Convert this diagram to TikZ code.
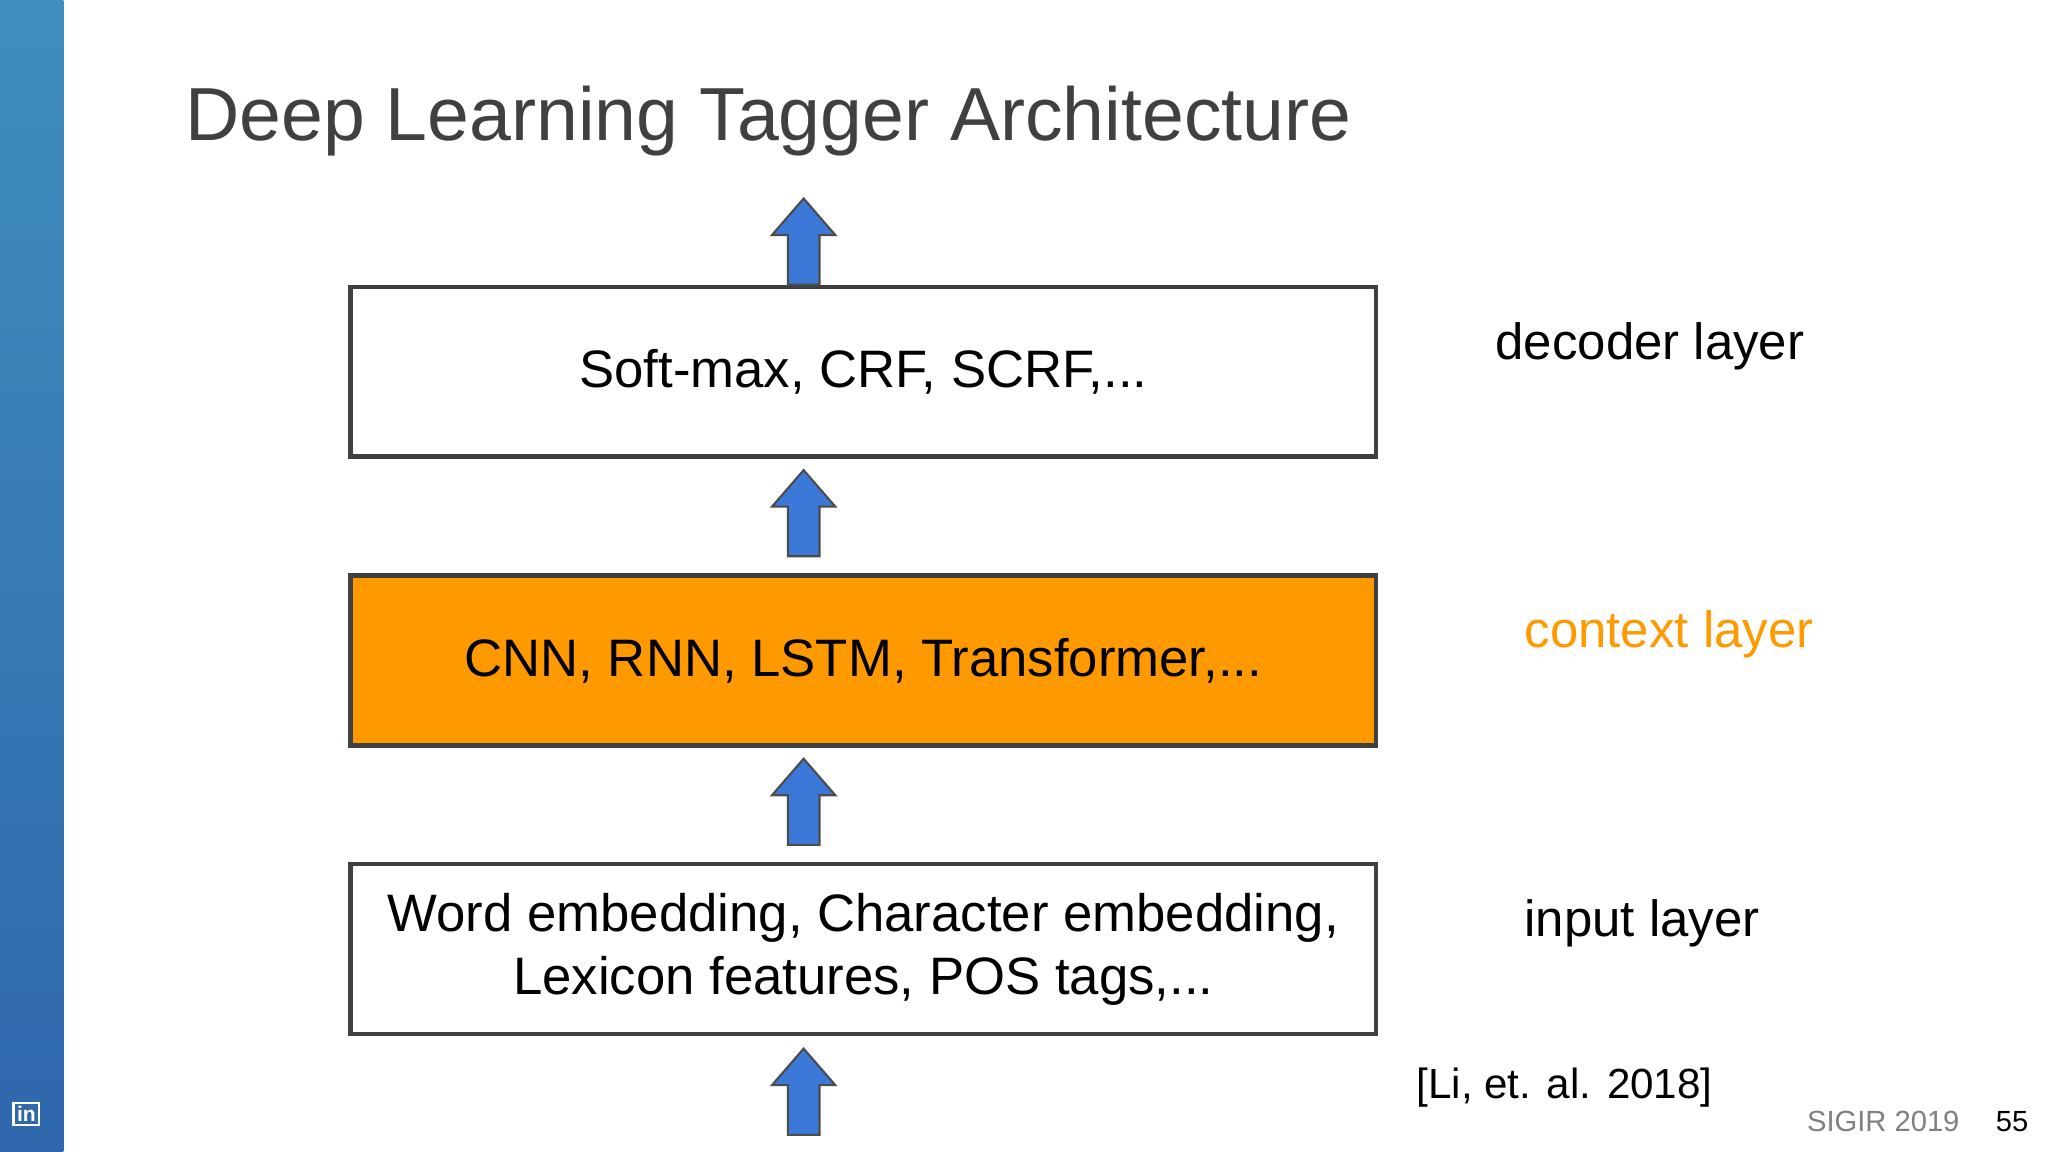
\documentclass[tikz,border=0pt]{standalone}
\usepackage{fontspec}
\setmainfont{Liberation Sans}
\begin{document}
\begin{tikzpicture}[x=0.0132cm,y=-0.01306cm,
  box/.style={draw=black!75,line width=1.3pt,minimum width=777*0.0132cm,minimum height=130*0.01306cm,inner sep=0pt,font=\fontsize{15}{18}\selectfont,align=center,anchor=north west},
  lab/.style={anchor=west,font=\fontsize{14.5}{17}\selectfont},
  pics/barrow/.style={code={
    \draw[fill=arrowblue,draw=black!70,line width=0.6pt]
      (-12,0)--(-12,-38)--(-24,-38)--(0,-66)--(24,-38)--(12,-38)--(12,0)--cycle;}}]
\definecolor{arrowblue}{HTML}{3C78D8}
\definecolor{ctx}{HTML}{FF9900}
\definecolor{bartop}{HTML}{3F8EBE}
\definecolor{barbot}{HTML}{2F66AC}
\useasboundingbox (0,0) rectangle (1552,882);
\fill[white] (0,0) rectangle (1552,882);
\shade[top color=bartop, bottom color=barbot] (0,0) rectangle (48,882);
\node[draw=white,line width=0.6pt,inner sep=1pt,font=\fontsize{6}{6}\bfseries\selectfont,text=white] (li) at (20,853) {in};
\node[anchor=west,text=black!75,font=\fontsize{21.4}{25}\selectfont] (title) at (131,93) {Deep Learning Tagger Architecture};
\node[box] (dec) at (264,218) {Soft-max, CRF, SCRF,...};
\node[box,fill=ctx] (ctxb) at (264,439) {CNN, RNN, LSTM, Transformer,...};
\node[box] (inp) at (264,660) {Word embedding, Character embedding,\\Lexicon features, POS tags,...};
\pic at (609,218) {barrow};
\pic at (609,426) {barrow};
\pic at (609,647) {barrow};
\pic at (609,869) {barrow};
\node[lab] (l1) at (1124,265) {decoder layer};
\node[lab,text=ctx] (l2) at (1146,486) {context layer};
\node[lab] (l3) at (1146,707) {input layer};
\node[anchor=west,font=\fontsize{12}{14}\selectfont] (ref) at (1064,833) {[Li, et. al. 2018]};
\node[anchor=west,text=black!50,font=\fontsize{8.3}{10}\selectfont] (sig) at (1360,859) {SIGIR 2019};
\node[anchor=west,font=\fontsize{8.3}{10}\selectfont] (pg) at (1503,859) {55};
\end{tikzpicture}
\end{document}
